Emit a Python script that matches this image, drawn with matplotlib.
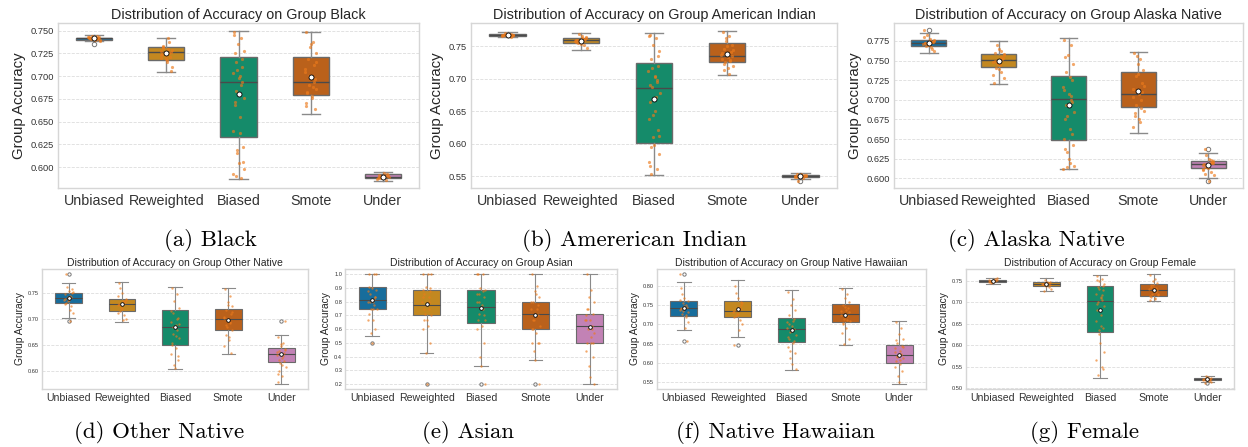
import colorsys
import matplotlib
matplotlib.use('Agg')
import matplotlib.pyplot as plt
from matplotlib.colors import to_rgb
from matplotlib.ticker import MultipleLocator

plt.rcParams['font.family'] = ['Liberation Sans', 'DejaVu Sans']

methods = ['Unbiased', 'Reweighted', 'Biased', 'Smote', 'Under']
palette = ['#0173B2', '#DE8F05', '#029E73', '#D55E00', '#CC78BC']

# rows per method: whislo, q1, med, q3, whishi, mean
black_stats = [[0.7385, 0.7401, 0.7415, 0.7423, 0.7453, 0.7415],
               [0.7040, 0.7182, 0.7266, 0.7325, 0.7423, 0.7252],
               [0.5869, 0.6329, 0.6934, 0.7212, 0.7500, 0.6803],
               [0.6584, 0.6796, 0.6934, 0.7208, 0.7490, 0.6989],
               [0.5850, 0.5883, 0.5895, 0.5920, 0.5949, 0.5895]]
black_fliers = [[0.7357], [], [], [], []]
black_points = [[0.7415, 0.7420, 0.7410, 0.7425, 0.7405, 0.7418, 0.7430, 0.7400, 0.7412, 0.7445, 0.7390, 0.7422,
                 0.7408, 0.7435, 0.7416, 0.7403, 0.7427, 0.7395, 0.7419, 0.7440],
                [0.7240, 0.7300, 0.7190, 0.7265, 0.7330, 0.7210, 0.7280, 0.7150, 0.7380, 0.7250, 0.7100, 0.7310,
                 0.7420, 0.7230, 0.7060, 0.7270, 0.7220, 0.7290, 0.7200, 0.7255, 0.7320, 0.7180],
                [0.748, 0.742, 0.735, 0.728, 0.716, 0.710, 0.703, 0.698, 0.690, 0.684, 0.676, 0.668, 0.655, 0.640,
                 0.622, 0.615, 0.604, 0.598, 0.592, 0.588, 0.725, 0.700, 0.745, 0.719, 0.707, 0.694, 0.672, 0.638,
                 0.619, 0.606, 0.590],
                [0.748, 0.738, 0.732, 0.725, 0.719, 0.712, 0.705, 0.698, 0.694, 0.690, 0.686, 0.681, 0.676, 0.670,
                 0.664, 0.700, 0.735, 0.716, 0.708, 0.688, 0.683, 0.678, 0.667, 0.697],
                [0.5895, 0.5900, 0.5888, 0.5910, 0.5880, 0.5920, 0.5870, 0.5935, 0.5860, 0.5902, 0.5893, 0.5915,
                 0.5898, 0.5885, 0.5905, 0.5891]]

amind_stats = [[0.7643, 0.7663, 0.7679, 0.7689, 0.7719, 0.7670],
               [0.7449, 0.7546, 0.7597, 0.7633, 0.7704, 0.7587],
               [0.5526, 0.6010, 0.6852, 0.7235, 0.7700, 0.6694],
               [0.7051, 0.7250, 0.7347, 0.7551, 0.7735, 0.7383],
               [0.5460, 0.5490, 0.5505, 0.5520, 0.5550, 0.5505]]
amind_fliers = [[], [], [], [], [0.5435]]
amind_points = [[0.767, 0.7675, 0.766, 0.768, 0.7665, 0.769, 0.7655, 0.7685, 0.7645, 0.771, 0.767, 0.7672,
                 0.7668, 0.7678, 0.7662, 0.7682],
                [0.759, 0.761, 0.757, 0.763, 0.755, 0.760, 0.7585, 0.765, 0.752, 0.769, 0.747, 0.7595, 0.762,
                 0.756, 0.7605, 0.758, 0.754, 0.764],
                [0.768, 0.762, 0.752, 0.742, 0.730, 0.720, 0.712, 0.703, 0.695, 0.687, 0.678, 0.665, 0.650, 0.638,
                 0.622, 0.610, 0.598, 0.585, 0.572, 0.562, 0.554, 0.705, 0.765, 0.735, 0.716, 0.698, 0.690, 0.672,
                 0.645, 0.612, 0.595, 0.566],
                [0.772, 0.765, 0.758, 0.752, 0.746, 0.741, 0.737, 0.733, 0.729, 0.726, 0.720, 0.714, 0.707, 0.740,
                 0.735, 0.762, 0.750, 0.744, 0.731, 0.727, 0.723, 0.716],
                [0.5505, 0.551, 0.550, 0.5515, 0.5495, 0.552, 0.549, 0.553, 0.548, 0.5435, 0.5505, 0.554,
                 0.5502, 0.5512, 0.5498, 0.5508]]

alaska_stats = [[0.7602, 0.7691, 0.7729, 0.7767, 0.7856, 0.7720],
                [0.7196, 0.7420, 0.7513, 0.7585, 0.7746, 0.7492],
                [0.6118, 0.6490, 0.7006, 0.7306, 0.7792, 0.6934],
                [0.6575, 0.6913, 0.7070, 0.7357, 0.7615, 0.7116],
                [0.6008, 0.6131, 0.6182, 0.6220, 0.6321, 0.6173]]
alaska_fliers = [[0.7885], [], [], [], [0.6376, 0.5970]]
alaska_points = [[0.772, 0.774, 0.770, 0.776, 0.768, 0.773, 0.771, 0.778, 0.765, 0.782, 0.762, 0.7725, 0.775,
                  0.7885, 0.7735, 0.7715, 0.7695, 0.7755, 0.780, 0.767],
                 [0.750, 0.755, 0.745, 0.758, 0.741, 0.752, 0.748, 0.765, 0.735, 0.770, 0.728, 0.760, 0.744,
                  0.722, 0.753, 0.747, 0.739, 0.757, 0.732, 0.762],
                 [0.776, 0.770, 0.757, 0.745, 0.735, 0.725, 0.716, 0.708, 0.700, 0.693, 0.684, 0.675, 0.663, 0.650,
                  0.642, 0.633, 0.625, 0.616, 0.612, 0.705, 0.755, 0.729, 0.712, 0.697, 0.679, 0.657, 0.637, 0.620,
                  0.614],
                 [0.760, 0.752, 0.745, 0.738, 0.730, 0.722, 0.714, 0.707, 0.700, 0.693, 0.686, 0.680, 0.672, 0.665,
                  0.710, 0.756, 0.733, 0.718, 0.703, 0.690, 0.683, 0.676],
                 [0.618, 0.620, 0.616, 0.622, 0.614, 0.619, 0.612, 0.625, 0.608, 0.630, 0.604, 0.6376, 0.597,
                  0.617, 0.621, 0.615, 0.613, 0.619, 0.610, 0.623, 0.606]]

other_stats = [[0.7017, 0.7307, 0.7403, 0.7500, 0.7693, 0.7403],
               [0.6953, 0.7159, 0.7294, 0.7397, 0.7712, 0.7288],
               [0.6039, 0.6509, 0.6843, 0.7172, 0.7616, 0.6843],
               [0.6322, 0.6792, 0.6998, 0.7204, 0.7610, 0.6979],
               [0.5749, 0.6167, 0.6329, 0.6438, 0.6689, 0.6322]]
other_fliers = [[0.7867, 0.6972], [], [], [], [0.6972]]
other_points = [[0.740, 0.745, 0.735, 0.750, 0.732, 0.742, 0.738, 0.755, 0.725, 0.762, 0.712, 0.7867, 0.6972,
                 0.748, 0.758, 0.743, 0.737, 0.752, 0.729, 0.718],
                [0.729, 0.735, 0.722, 0.740, 0.716, 0.731, 0.727, 0.750, 0.708, 0.760, 0.700, 0.770, 0.698,
                 0.745, 0.733, 0.725, 0.719, 0.738, 0.712],
                [0.760, 0.748, 0.735, 0.722, 0.712, 0.703, 0.695, 0.688, 0.680, 0.672, 0.664, 0.655, 0.645, 0.633,
                 0.622, 0.612, 0.605, 0.690, 0.716, 0.700, 0.684, 0.668, 0.650, 0.628],
                [0.758, 0.745, 0.733, 0.725, 0.718, 0.710, 0.703, 0.698, 0.692, 0.685, 0.679, 0.670, 0.660, 0.648,
                 0.635, 0.700, 0.728, 0.714, 0.705, 0.694, 0.688, 0.665],
                [0.666, 0.655, 0.648, 0.642, 0.638, 0.634, 0.630, 0.626, 0.620, 0.615, 0.608, 0.600, 0.590, 0.578,
                 0.6972, 0.632, 0.652, 0.640, 0.636, 0.628, 0.622, 0.612, 0.595]]

asian_stats = [[0.5523, 0.747, 0.810, 0.905, 1.0, 0.810],
               [0.4286, 0.700, 0.776, 0.883, 1.0, 0.783],
               [0.3333, 0.642, 0.759, 0.883, 1.0, 0.754],
               [0.3750, 0.600, 0.708, 0.800, 1.0, 0.703],
               [0.2000, 0.500, 0.620, 0.714, 1.0, 0.613]]
asian_fliers = [[0.5], [0.2], [0.2], [0.2], []]
asian_points = [[1.0, 1.0, 0.9, 0.889, 0.857, 0.833, 0.8, 0.8, 0.778, 0.75, 0.75, 0.714, 0.667, 0.667, 0.6, 0.571,
                 0.5, 1.0, 0.875, 0.818, 0.8, 0.75, 0.909, 0.833],
                [1.0, 1.0, 0.909, 0.875, 0.857, 0.833, 0.8, 0.778, 0.75, 0.714, 0.7, 0.667, 0.625, 0.6, 0.5, 0.429,
                 0.2, 1.0, 0.889, 0.8, 0.75, 0.667, 0.833, 0.9],
                [1.0, 1.0, 0.9, 0.889, 0.857, 0.833, 0.8, 0.778, 0.75, 0.714, 0.667, 0.667, 0.625, 0.6, 0.5, 0.4,
                 0.333, 0.2, 1.0, 0.875, 0.8, 0.75, 0.857, 0.7],
                [1.0, 0.917, 0.875, 0.833, 0.8, 0.778, 0.75, 0.714, 0.7, 0.667, 0.625, 0.6, 0.571, 0.5, 0.5, 0.444,
                 0.375, 0.2, 0.8, 0.75, 0.667, 0.857, 0.6, 0.5],
                [1.0, 0.889, 0.833, 0.8, 0.75, 0.714, 0.667, 0.667, 0.625, 0.6, 0.571, 0.5, 0.5, 0.444, 0.4, 0.333,
                 0.25, 0.2, 0.667, 0.6, 0.75, 0.545, 0.7, 0.5]]

hawaii_stats = [[0.6845, 0.7227, 0.7418, 0.7600, 0.8095, 0.7418],
                [0.6663, 0.7201, 0.7349, 0.7600, 0.8148, 0.7392],
                [0.5804, 0.6550, 0.6889, 0.7175, 0.7887, 0.6845],
                [0.6464, 0.7062, 0.7271, 0.7531, 0.7948, 0.7253],
                [0.5448, 0.6003, 0.6212, 0.6472, 0.7080, 0.6212]]
hawaii_fliers = [[0.8304, 0.6576], [0.6455], [], [], []]
hawaii_points = [[0.742, 0.750, 0.735, 0.760, 0.728, 0.745, 0.738, 0.770, 0.718, 0.780, 0.705, 0.795, 0.690,
                  0.8304, 0.6576, 0.755, 0.748, 0.732, 0.763, 0.725, 0.740],
                 [0.735, 0.745, 0.728, 0.758, 0.722, 0.740, 0.732, 0.768, 0.712, 0.782, 0.700, 0.800, 0.685,
                  0.6455, 0.750, 0.738, 0.726, 0.755, 0.718, 0.742],
                 [0.785, 0.765, 0.750, 0.738, 0.725, 0.715, 0.705, 0.696, 0.688, 0.680, 0.672, 0.662, 0.652, 0.640,
                  0.625, 0.612, 0.598, 0.585, 0.690, 0.710, 0.700, 0.684, 0.668, 0.657, 0.632],
                 [0.792, 0.780, 0.768, 0.758, 0.750, 0.742, 0.735, 0.728, 0.722, 0.715, 0.708, 0.700, 0.690, 0.678,
                  0.662, 0.650, 0.745, 0.732, 0.725, 0.712, 0.704, 0.738],
                 [0.705, 0.690, 0.675, 0.662, 0.652, 0.645, 0.638, 0.630, 0.624, 0.618, 0.612, 0.605, 0.598, 0.590,
                  0.578, 0.565, 0.550, 0.640, 0.628, 0.620, 0.615, 0.608, 0.660]]

female_stats = [[0.7422, 0.7461, 0.7492, 0.7516, 0.7570, 0.7490],
                [0.7260, 0.7384, 0.7430, 0.7461, 0.7554, 0.7422],
                [0.5233, 0.6304, 0.7026, 0.7384, 0.7624, 0.6817],
                [0.7019, 0.7143, 0.7291, 0.7430, 0.7648, 0.7291],
                [0.5140, 0.5186, 0.5210, 0.5233, 0.5287, 0.5205]]
female_fliers = [[], [], [], [], [0.511]]
female_points = [[0.749, 0.750, 0.748, 0.751, 0.747, 0.7495, 0.752, 0.746, 0.754, 0.744, 0.756, 0.7485, 0.7505,
                  0.7478, 0.7512, 0.7468],
                 [0.743, 0.744, 0.741, 0.746, 0.739, 0.7435, 0.742, 0.748, 0.736, 0.752, 0.730, 0.727, 0.745,
                  0.7425, 0.740, 0.7445, 0.738],
                 [0.760, 0.755, 0.750, 0.742, 0.735, 0.728, 0.720, 0.712, 0.705, 0.700, 0.692, 0.682, 0.670, 0.655,
                  0.640, 0.625, 0.605, 0.585, 0.565, 0.548, 0.530, 0.710, 0.752, 0.738, 0.731, 0.716, 0.696, 0.645,
                  0.634, 0.545],
                 [0.763, 0.755, 0.749, 0.744, 0.739, 0.734, 0.730, 0.727, 0.724, 0.720, 0.716, 0.712, 0.708, 0.704,
                  0.728, 0.741, 0.732, 0.718, 0.714, 0.710, 0.736],
                 [0.521, 0.522, 0.520, 0.523, 0.519, 0.5215, 0.518, 0.525, 0.516, 0.527, 0.514, 0.511, 0.5205,
                  0.5212, 0.5198, 0.5222]]

# deterministic x offsets for the strip points
jitter = [-0.06, 0.03, -0.01, 0.07, -0.04, 0.05, -0.08, 0.01, 0.04, -0.03, 0.08,
          -0.05, 0.02, -0.07, 0.06, -0.02, 0.0, 0.075, -0.075, 0.035, -0.045, 0.015,
          -0.065, 0.055, -0.025, 0.045, -0.055, 0.025, -0.015, 0.065, -0.035]


def desat(c, p=0.75):
    h, l, s = colorsys.rgb_to_hls(*to_rgb(c))
    return colorsys.hls_to_rgb(h, l, s * p)


W, H = 1248, 447
fig = plt.figure(figsize=(W / 100, H / 100), dpi=100)


def panel(box, group, stats, fliers, points, ylim, step, big):
    x0, x1, ytop, ybot = box
    ax = fig.add_axes([x0 / W, 1 - ybot / H, (x1 - x0) / W, (ybot - ytop) / H])
    bx = []
    for s, f in zip(stats, fliers):
        bx.append(dict(whislo=s[0], q1=s[1], med=s[2], q3=s[3], whishi=s[4], mean=s[5], fliers=f))
    lc = '#4a4a4a'
    lw = 1.0 if big else 0.8
    res = ax.bxp(bx, positions=range(5), widths=0.5, patch_artist=True, showmeans=True,
                 capwidths=0.25,
                 boxprops=dict(edgecolor='#6a6a6a', linewidth=lw),
                 whiskerprops=dict(color='#8a8a8a', linewidth=lw),
                 capprops=dict(color='#8a8a8a', linewidth=lw),
                 medianprops=dict(color=lc, linewidth=lw),
                 meanprops=dict(marker='o', markerfacecolor='white', markeredgecolor='black',
                                markersize=3.6 if big else 2.6, markeredgewidth=0.6, zorder=6),
                 flierprops=dict(marker='o', markerfacecolor='none', markeredgecolor='#777777',
                                 markersize=3.2 if big else 2.4, markeredgewidth=0.7))
    for patch, c in zip(res['boxes'], palette):
        patch.set_facecolor(desat(c))
    for i, vals in enumerate(points):
        xs = [i + jitter[k % len(jitter)] for k in range(len(vals))]
        ax.plot(xs, vals, 'o', color='#ec7a1c', alpha=0.65, markersize=2.3 if big else 1.7,
                markeredgewidth=0, zorder=5)
    ax.set_xlim(-0.5, 4.5)
    ax.set_ylim(*ylim)
    ax.yaxis.set_major_locator(MultipleLocator(step))
    ax.set_xticks(range(5))
    ax.set_xticklabels(methods)
    ax.grid(axis='y', linestyle='--', color='#dddddd', linewidth=0.6)
    ax.set_axisbelow(True)
    for sp in ax.spines.values():
        sp.set_color('#d6d6d6')
        sp.set_linewidth(1.0)
    ax.tick_params(length=0, colors='#333333')
    ax.tick_params(axis='x', labelsize=10.3 if big else 7.6, pad=4 if big else 3)
    ax.tick_params(axis='y', labelsize=6.7 if big else 4.1, pad=3 if big else 2)
    ax.set_title('Distribution of Accuracy on Group ' + group, fontsize=10.4 if big else 7.5,
                 color='#262626', pad=3 if big else 2)
    ax.set_ylabel('Group Accuracy', fontsize=10.8 if big else 7.4, color='#262626',
                  labelpad=3 if big else 2)
    return ax


panel((58, 419, 23, 188), 'Black', black_stats, black_fliers, black_points, (0.577, 0.7584), 0.025, True)
panel((471, 837, 23, 188), 'American Indian', amind_stats, amind_fliers, amind_points, (0.5321, 0.7857), 0.05, True)
panel((894, 1243, 23, 188), 'Alaska Native', alaska_stats, alaska_fliers, alaska_points, (0.5877, 0.7978), 0.025, True)
panel((42, 308, 269, 389), 'Other Native', other_stats, other_fliers, other_points, (0.5652, 0.797), 0.05, False)
panel((345, 617, 269, 389), 'Asian', asian_stats, asian_fliers, asian_points, (0.1635, 1.039), 0.1, False)
panel((657, 926, 269, 389), 'Native Hawaiian', hawaii_stats, hawaii_fliers, hawaii_points, (0.5318, 0.8443), 0.05, False)
panel((966, 1234, 269, 389), 'Female', female_stats, female_fliers, female_points, (0.4977, 0.7772), 0.05, False)

captions = [('(a) Black', 210, 240), ('(b) Amererican Indian', 634, 240), ('(c) Alaska Native', 1036, 240),
            ('(d) Other Native', 159, 433), ('(e) Asian', 468, 433), ('(f) Native Hawaiian', 776, 433),
            ('(g) Female', 1085, 433)]
for txt, cx, cy in captions:
    fig.text(cx / W, 1 - cy / H, txt, family='cmr10', fontsize=16.5, ha='center', va='center')

fig.savefig('out.png', dpi=100)
